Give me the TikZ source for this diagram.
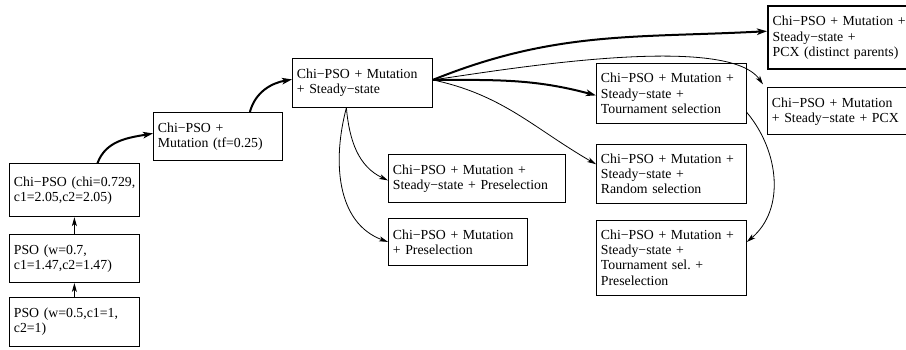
\documentclass[tikz,border=0pt]{standalone}
\usepackage{fontspec}
\setmainfont{Liberation Serif}
\usepackage{tikz}
\usetikzlibrary{positioning}
\usetikzlibrary{arrows.meta}
\frenchspacing
\tikzstyle{variant} = [rectangle, draw=black, line width=0.8pt, align=left, inner xsep=4.5pt, inner ysep=2pt, font=\fontsize{13.8}{15.2}\selectfont]
\tikzstyle{best} = [variant, line width=2.4pt]
\tikzstyle{arrow} = [line width=0.8pt,-{Stealth[length=9pt,width=5pt,inset=2.5pt]}]
\tikzstyle{thickarrow} = [line width=2pt,-{Stealth[length=10pt,width=6.5pt,inset=2.5pt]}]

\begin{document}
\begin{tikzpicture}[x=1pt, y=-1pt]
        \useasboundingbox (0,0) rectangle (906,349);
        % left column
        \node (pso1) [variant, anchor=north west, text width=121pt, minimum height=49pt] at (9,297) {PSO (w=0.5,c1=1,\\c2=1)};
        \node (pso2) [variant, text width=121pt, minimum height=48pt, above=14pt of pso1] {PSO (w=0.7,\\c1=1.47,c2=1.47)};
        \node (chi) [variant, text width=121pt, minimum height=53pt, above=17pt of pso2] {\mbox{Chi−PSO (chi=0.729,}\\c1=2.05,c2=2.05)};
        \node (mut) [variant, anchor=north west, text width=120pt, minimum height=48pt] at (153,112) {Chi−PSO +\\Mutation (tf=0.25)};
        \node (ss) [variant, anchor=north west, text width=131pt, minimum height=49pt] at (292,58) {Chi−PSO + Mutation\\+ Steady−state};
        % below steady-state
        \node (ssPre) [variant, anchor=north west, text width=168pt, minimum height=48pt] at (388,154) {Chi−PSO + Mutation +\\Steady−state + Preselection};
        \node (pre) [variant, anchor=north west, text width=130pt, minimum height=47pt] at (388,218) {Chi−PSO + Mutation\\+ Preselection};
        % right column
        \node (tour) [variant, anchor=north west, text width=141pt, minimum height=60pt] at (596,63) {Chi−PSO + Mutation +\\Steady−state +\\Tournament selection};
        \node (rand) [variant, text width=141pt, minimum height=59pt, below=20pt of tour] {Chi−PSO + Mutation +\\Steady−state +\\Random selection};
        \node (tourPre) [variant, text width=141pt, minimum height=75pt, below=16pt of rand] {Chi−PSO + Mutation +\\Steady−state +\\Tournament sel. +\\Preselection};
        \node (pcxd) [best, anchor=north west, text width=140pt, minimum height=63pt] at (767,5) {Chi−PSO + Mutation +\\Steady−state +\\PCX (distinct parents)};
        \node (pcx) [variant, text width=140pt, minimum height=47pt, below=17pt of pcxd.south west, anchor=north west] {Chi−PSO + Mutation\\+ Steady−state + PCX};

        \coordinate (ssout) at ([yshift=3pt]ss.east);
        \coordinate (ssdown) at ([xshift=-16pt]ss.south);

        \draw [arrow] (pso1) -- (pso2);
        \draw [arrow] (pso2) -- (chi);
        \draw [thickarrow] ([xshift=23pt]chi.north) to[out=70, in=190] ([yshift=3pt]mut.west);
        \draw [thickarrow] ([xshift=32pt]mut.north) to[out=75, in=190] ([yshift=3.5pt]ss.west);
        \draw [thickarrow] (ssout) to[out=22, in=183] ([yshift=6.5pt]pcxd.west);
        \draw [arrow] (ssout) to[out=8, in=125, looseness=0.5] ([shift={(-4pt,3pt)}]pcx.north west);
        \draw [thickarrow] (ssout) to[out=0, in=165] ([yshift=-2pt]tour.west);
        \draw [arrow] (ssout) to[out=-12, in=150] ([yshift=9.5pt]rand.west);
        \draw [arrow] (ssdown) to[out=-85, in=155] ([yshift=-2pt]ssPre.west);
        \draw [arrow] (ssdown) to[out=-105, in=160] (pre.west);
        \draw [arrow] ([yshift=-19pt]tour.east) to[out=-50, in=40] ([yshift=15.5pt]tourPre.east);
    \end{tikzpicture}
\end{document}
